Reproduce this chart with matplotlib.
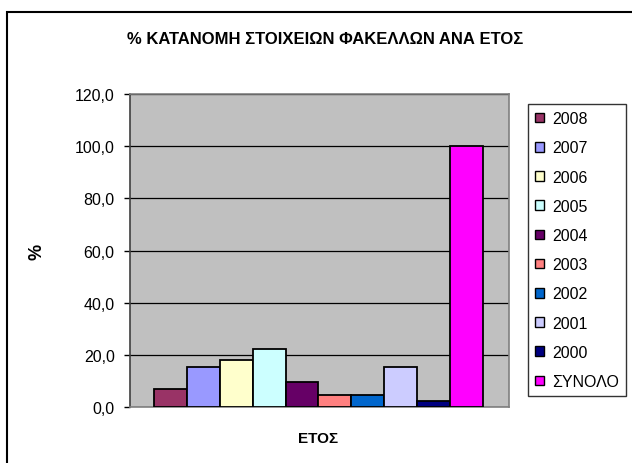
import matplotlib.pyplot as plt
from matplotlib.patches import Rectangle, Patch
from matplotlib.ticker import FuncFormatter

plt.rcParams['font.family'] = ['Liberation Sans', 'DejaVu Sans']

# Data
years = ['2008', '2007', '2006', '2005', '2004', '2003', '2002', '2001', '2000', 'ΣΥΝΟΛΟ']
values = [6.9, 15.4, 18.1, 22.3, 9.6, 4.6, 4.6, 15.4, 2.3, 100.0]
colors = ['#993366', '#9999FF', '#FFFFCC', '#CCFFFF', '#660066',
          '#FF8080', '#0066CC', '#CCCCFF', '#000080', '#FF00FF']
yticks = [0, 20, 40, 60, 80, 100, 120]

W, H = 632, 464
fig = plt.figure(figsize=(W / 100, H / 100), dpi=100)

# outer chart border (right and bottom edges run off the picture)
fig.patches.append(Rectangle((7 / W, -0.1), 1.2, 1 - 13 / H + 0.1,
                             transform=fig.transFigure, fill=False,
                             edgecolor='black', linewidth=1.5))

ax = fig.add_axes([130 / W, (H - 408) / H, 379 / W, 313 / H])
ax.set_facecolor('#C0C0C0')

# one category, ten series side by side
start = 0.0633
w = 0.0868
for i, (lab, v, c) in enumerate(zip(years, values, colors)):
    ax.bar(start + i * w, v, width=w, align='edge', color=c,
           edgecolor='black', linewidth=1.3, label=lab, zorder=3)

ax.set_xlim(0, 1)
ax.set_ylim(0, 120)
ax.set_yticks(yticks)
ax.yaxis.set_major_formatter(FuncFormatter(lambda v, p: f'{v:.1f}'.replace('.', ',')))
ax.set_xticks([])
ax.grid(axis='y', color='black', linewidth=0.9, zorder=1)
ax.tick_params(axis='y', length=4, width=1, color='black', labelsize=11.5, pad=7, labelcolor='black')
for s in ax.spines.values():
    s.set_color('#808080')
    s.set_linewidth(1.2)
ax.spines['left'].set_color('#404040')

ax.set_ylabel('%', fontsize=13, fontweight='bold', rotation=90)
ax.yaxis.set_label_coords((45 - 130) / 379, 0.5)
ax.set_xlabel('ΕΤΟΣ', fontsize=11, fontweight='bold')
ax.xaxis.set_label_coords((318 - 130) / 379, -(432 - 408) / 313)

fig.text(325 / W, 1 - 39 / H, '% ΚΑΤΑΝΟΜΗ ΣΤΟΙΧΕΙΩΝ ΦΑΚΕΛΛΩΝ ΑΝΑ ΕΤΟΣ',
         ha='center', va='center', fontsize=12, fontweight='bold')

handles = [Patch(facecolor=c, edgecolor='black', linewidth=1) for c in colors]
leg = fig.legend(handles, years, loc='upper left',
                 bbox_to_anchor=(528 / W, 1 - 105 / H),
                 frameon=True, fancybox=False, shadow=False,
                 fontsize=11.5, handlelength=0.55, handleheight=0.55,
                 handletextpad=0.5, labelspacing=0.89, borderpad=0.45,
                 borderaxespad=0)
leg.get_frame().set_edgecolor('black')
leg.get_frame().set_linewidth(1)

fig.savefig('out.png', dpi=100)
